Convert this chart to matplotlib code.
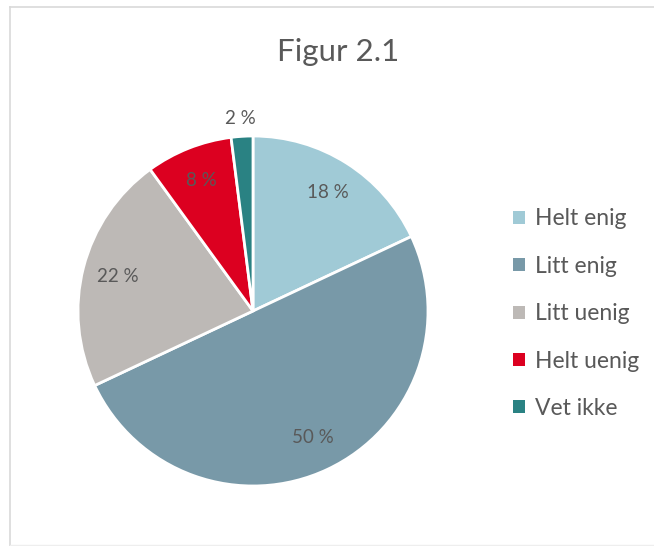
import matplotlib
matplotlib.use("Agg")
import matplotlib.pyplot as plt
from matplotlib.patches import Patch

plt.rcParams['font.family'] = ['Lato', 'DejaVu Sans']

# data
categories = ['Helt enig', 'Litt enig', 'Litt uenig', 'Helt uenig', 'Vet ikke']
shares = [18, 50, 22, 8, 2]
colors = ['#A0CAD6', '#7899A8', '#BDB9B6', '#DC0020', '#2A8283']
title = 'Figur 2.1'

W, H = 654, 546
fig = plt.figure(figsize=(W / 100, H / 100), dpi=100)
ax = fig.add_axes([0, 0, 1, 1])

# pie (pixel coords, y up)
cx, cy, r = 253, 546 - 311, 175
wedges, texts, autotexts = ax.pie(
    shares, colors=colors, startangle=90, counterclock=False,
    center=(cx, cy), radius=r, frame=True,
    autopct=lambda p: f'{p:.0f} %', pctdistance=0.8,
    wedgeprops=dict(edgecolor='white', linewidth=2),
    textprops=dict(color='#595959', fontsize=13.5))

# small slice label goes outside like in Excel
autotexts[-1].set_position((cx - 0.07 * r, cy + 1.1 * r))

ax.set_xlim(0, W)
ax.set_ylim(0, H)
ax.set_aspect('equal')
ax.axis('off')

# chart frame
ax.plot([10, 10], [0, H - 7], color='#D9D9D9', lw=1.2)
ax.plot([10, W], [H - 7, H - 7], color='#D9D9D9', lw=1.2)
ax.plot([10, W], [1, 1], color='#EEEEEE', lw=1)

ax.text(338, H - 52, title, ha='center', va='center', fontsize=22.5, color='#595959')

handles = [Patch(facecolor=c, edgecolor='none') for c in colors]
ax.legend(handles, categories, loc='upper left',
          bbox_to_anchor=(502 / W, (H - 197) / H), bbox_transform=fig.transFigure,
          frameon=False, fontsize=16.5, labelcolor='#595959',
          handlelength=0.5, handleheight=0.5, handletextpad=0.45,
          labelspacing=1.15, borderpad=0)

fig.savefig('out.png', dpi=100)
